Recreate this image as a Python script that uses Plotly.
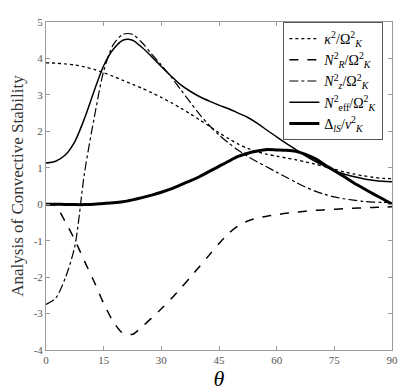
import plotly.graph_objects as go

theta = [0, 2.5, 5, 7.5, 10, 12.5, 15, 17.5, 20, 22.5, 25, 27.5, 30, 32.5, 35, 37.5, 40,
         42.5, 45, 47.5, 50, 52.5, 55, 57.5, 60, 62.5, 65, 67.5, 70, 72.5, 75, 77.5, 80,
         82.5, 85, 87.5, 90]

kappa2 = [3.88, 3.87, 3.85, 3.82, 3.77, 3.70, 3.61, 3.51, 3.40, 3.29, 3.18, 3.06, 2.93,
          2.79, 2.64, 2.48, 2.31, 2.14, 1.96, 1.80, 1.65, 1.53, 1.44, 1.37, 1.32, 1.27,
          1.22, 1.16, 1.10, 1.03, 0.96, 0.89, 0.83, 0.78, 0.74, 0.71, 0.70]

NR2 = [0.0, -0.05, -0.48, -0.98, -1.56, -2.12, -2.72, -3.22, -3.54, -3.57, -3.36, -3.12,
       -2.87, -2.60, -2.31, -2.01, -1.70, -1.39, -1.08, -0.80, -0.59, -0.46, -0.38,
       -0.33, -0.29, -0.25, -0.22, -0.19, -0.17, -0.15, -0.14, -0.12, -0.11, -0.10,
       -0.09, -0.08, -0.07]

Nz2 = [-2.75, -2.58, -2.03, -1.15, 0.85, 2.35, 3.65, 4.38, 4.66, 4.66, 4.43, 4.12, 3.82,
       3.50, 3.15, 2.80, 2.46, 2.16, 1.90, 1.68, 1.48, 1.31, 1.16, 1.02, 0.88, 0.74,
       0.60, 0.47, 0.36, 0.27, 0.20, 0.15, 0.11, 0.08, 0.06, 0.05, 0.04]

Neff2 = [1.13, 1.18, 1.35, 1.72, 2.35, 3.10, 3.80, 4.25, 4.50, 4.50, 4.30, 4.05, 3.78,
         3.52, 3.28, 3.10, 2.95, 2.83, 2.72, 2.62, 2.50, 2.38, 2.22, 2.03, 1.85, 1.67,
         1.50, 1.33, 1.18, 1.05, 0.93, 0.83, 0.76, 0.70, 0.66, 0.63, 0.62]

DeltaIS = [0.0, 0.0, -0.005, -0.01, -0.01, 0.0, 0.02, 0.04, 0.07, 0.12, 0.18, 0.25, 0.33,
           0.42, 0.53, 0.64, 0.76, 0.90, 1.04, 1.18, 1.31, 1.40, 1.46, 1.50, 1.49, 1.48,
           1.45, 1.37, 1.25, 1.08, 0.92, 0.76, 0.59, 0.44, 0.29, 0.15, 0.0]

x_ticks = [0, 15, 30, 45, 60, 75, 90]
y_ticks = [-4, -3, -2, -1, 0, 1, 2, 3, 4, 5]
y_ticktext = ["-4", "-3", "-2", "-1", "0", "1", "2", "3", "4", "5"]

names = [
    "<i>κ</i><sup>2</sup>/Ω<sup>2</sup><sub><i>K</i></sub>",
    "<i>N</i><sup>2</sup><sub><i>R</i></sub>/Ω<sup>2</sup><sub><i>K</i></sub>",
    "<i>N</i><sup>2</sup><sub><i>z</i></sub>/Ω<sup>2</sup><sub><i>K</i></sub>",
    "<i>N</i><sup>2</sup><sub>eff</sub>/Ω<sup>2</sup><sub><i>K</i></sub>",
    "Δ<sub><i>lS</i></sub>/<i>v</i><sup>2</sup><sub><i>K</i></sub>",
]

series = [kappa2, NR2, Nz2, Neff2, DeltaIS]
dashes = ["dot", "dash", "dashdot", "solid", "solid"]
widths = [1.3, 1.5, 1.2, 1.5, 3.0]

fig = go.Figure()
for name, ys, d, w in zip(names, series, dashes, widths):
    fig.add_trace(go.Scatter(
        x=theta, y=ys, mode="lines", name=name,
        line=dict(color="black", dash=d, width=w, shape="spline", smoothing=0.8),
    ))

axis_common = dict(
    showgrid=False, zeroline=False, showline=True, linecolor="#9a9a9a", linewidth=1,
    mirror="ticks", ticks="inside", ticklen=4, tickcolor="#9a9a9a",
    tickfont=dict(family="Liberation Serif", size=11, color="#555555"),
)

# the page body adds an 8px offset; the figure is sized so the whole chart fits the window
fig.update_layout(
    width=399, height=384,
    margin=dict(l=36, r=15, t=8, b=40),
    paper_bgcolor="white", plot_bgcolor="white",
    showlegend=True,
    legend=dict(
        x=0.975, y=1.0, xanchor="right", yanchor="top",
        bgcolor="white", bordercolor="#555555", borderwidth=1,
        font=dict(family="Liberation Serif", size=14, color="black"),
        itemwidth=30, tracegroupgap=0,
    ),
    xaxis=dict(range=[0, 90], tickvals=x_ticks,
               title=dict(text="<i>θ</i>", font=dict(family="Liberation Serif", size=22, color="black"), standoff=2),
               **axis_common),
    yaxis=dict(range=[-4, 5], tickvals=y_ticks, ticktext=y_ticktext,
               title=dict(text="Analysis of Convective Stability", font=dict(family="Liberation Serif", size=17, color="#333333"), standoff=6),
               **axis_common),
)

fig.write_html("out.html")
